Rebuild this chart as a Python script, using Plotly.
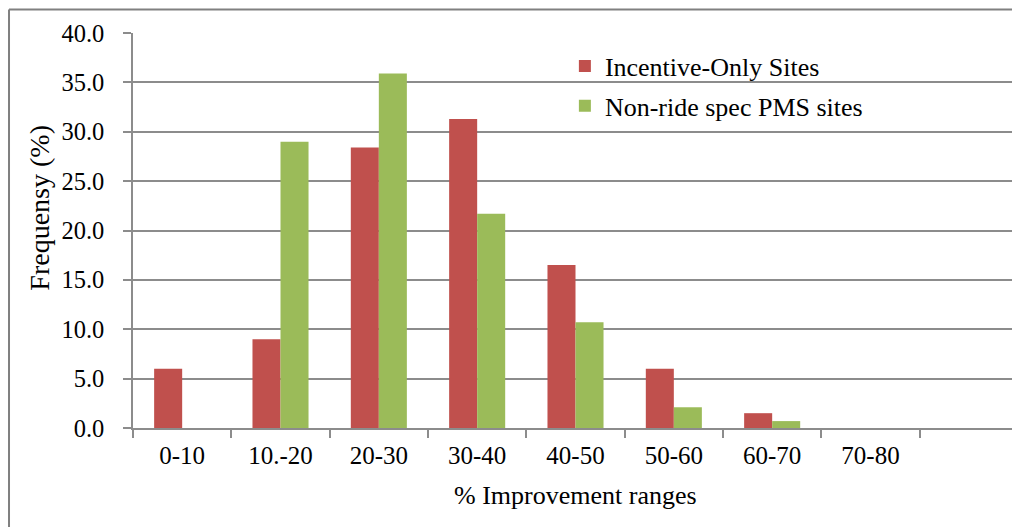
import plotly.graph_objects as go

categories = ["0-10", "10.-20", "20-30", "30-40", "40-50", "50-60", "60-70", "70-80", " "]
incentive_only = [6.0, 9.0, 28.4, 31.3, 16.5, 6.0, 1.5, 0.0, None]
non_ride_pms = [0.0, 29.0, 35.9, 21.7, 10.7, 2.1, 0.7, 0.0, None]
y_ticks = [0, 5, 10, 15, 20, 25, 30, 35, 40]
y_tick_labels = [f"{v:.1f}" for v in y_ticks]

FONT = "Liberation Serif"
GRID = "#8c8c8c"

fig = go.Figure()
fig.add_trace(go.Bar(name="Incentive-Only Sites", x=categories, y=incentive_only,
                     marker=dict(color="#C0504D", line=dict(width=0)), legendgroup="a"))
fig.add_trace(go.Bar(name="Non-ride spec PMS sites", x=categories, y=non_ride_pms,
                     marker=dict(color="#9BBB59", line=dict(width=0)), legendgroup="b"))

fig.update_layout(
    width=1012, height=519,
    margin=dict(l=125, r=2, t=25, b=99),
    paper_bgcolor="white", plot_bgcolor="white",
    font=dict(family=FONT, size=25, color="black"),
    barmode="group", bargap=0.43, bargroupgap=0,
    showlegend=True,
    legend=dict(x=0.488, y=0.976, xanchor="left", yanchor="top",
                bgcolor="rgba(0,0,0,0)", font=dict(family=FONT, size=26),
                tracegroupgap=3, itemclick=False),
    xaxis=dict(type="category", categoryorder="array", categoryarray=categories,
               range=[-0.5, 8.5], tickson="boundaries", ticks="outside", ticklen=8,
               tickcolor=GRID, tickwidth=1.5, showline=True, linecolor=GRID, linewidth=1.5,
               showgrid=False, tickfont=dict(family=FONT, size=25), ticklabelstandoff=4,
               fixedrange=True),
    yaxis=dict(range=[0, 40], tickvals=y_ticks, ticktext=y_tick_labels,
               ticks="outside", ticklen=8, tickcolor=GRID, tickwidth=1.5,
               showline=True, linecolor=GRID, linewidth=1.5,
               showgrid=True, gridcolor=GRID, gridwidth=1.5, zeroline=False,
               tickfont=dict(family=FONT, size=24.5), ticklabelstandoff=14,
               fixedrange=True),
    annotations=[
        dict(text="% Improvement ranges", xref="paper", yref="paper", x=0.5, y=-0.17,
             xanchor="center", yanchor="middle", showarrow=False,
             font=dict(family=FONT, size=26)),
        dict(text="Frequensy (%)", xref="paper", yref="paper", x=-0.105, y=0.558,
             xanchor="center", yanchor="middle", showarrow=False, textangle=-90,
             font=dict(family=FONT, size=28)),
    ],
    shapes=[
        dict(type="line", xref="paper", yref="paper", x0=-0.1401, x1=1.01, y0=1.0595, y1=1.0595,
             line=dict(color="#808080", width=2)),
        dict(type="line", xref="paper", yref="paper", x0=-0.1401, x1=-0.1401, y0=1.0595, y1=-0.3,
             line=dict(color="#808080", width=2)),
    ],
)

fig.write_html("out.html")
